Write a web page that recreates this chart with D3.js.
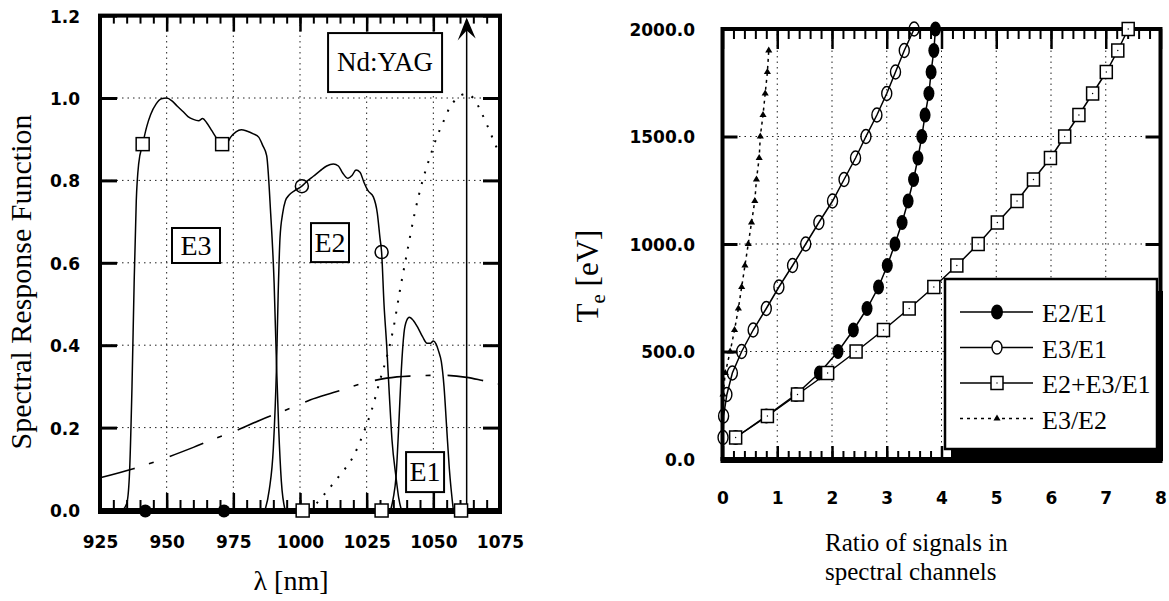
<!DOCTYPE html>
<html>
<head>
<meta charset="utf-8">
<script src="https://cdn.jsdelivr.net/npm/d3@7/dist/d3.min.js"></script>
<style>
body { margin: 0; background: #fff; }
svg { display: block; background: #fff; }
.tick text { font-family: "DejaVu Sans", sans-serif; font-weight: bold; font-size: 17px; fill: #000; }
.lbl { font-family: "Liberation Serif", "Times New Roman", serif; fill: #000; }
</style>
</head>
<body>
<div id="chart"></div>
<script>
// ---------- left panel data: spectral response vs wavelength [nm]
var e3Curve = [[933.5,0],[935,0.015],[936,0.08],[937,0.3],[937.8,0.55],[938.6,0.75],[939.5,0.84],[941,0.888],
  [942.5,0.93],[944,0.96],[946,0.985],[948,0.998],[950,1.0],[952,0.993],[954,0.98],[956,0.968],[958,0.955],
  [960,0.948],[962,0.945],[963.5,0.95],[965,0.94],[967,0.92],[969,0.9],[970.8,0.888],[972.5,0.89],[974,0.905],
  [976,0.918],[978,0.923],[980,0.92],[982.5,0.913],[984.5,0.905],[986,0.885],[987.5,0.86],[989,0.72],
  [990.3,0.55],[991.2,0.35],[992,0.2],[993,0.07],[994.4,0]];
var e2Curve = [[986.9,0],[988.5,0.05],[990,0.15],[991.2,0.35],[991.8,0.52],[992.5,0.66],[993.5,0.72],[994.5,0.75],
  [996,0.765],[998,0.775],[1000.7,0.786],[1003,0.8],[1005,0.81],[1007.5,0.823],[1010,0.835],[1012.5,0.84],
  [1014.4,0.835],[1016,0.818],[1018,0.805],[1019.5,0.812],[1021,0.825],[1022.5,0.82],[1024,0.795],[1025.5,0.775],
  [1027.5,0.76],[1029,0.72],[1030,0.66],[1030.6,0.626],[1031.5,0.5],[1032.5,0.4],[1033.5,0.28],[1034.5,0.17],
  [1036,0.08],[1037,0.03],[1038,0]];
var e1Curve = [[1034,0],[1035,0.03],[1036,0.08],[1037,0.2],[1038,0.34],[1039,0.43],[1040,0.46],[1041,0.468],
  [1042.5,0.46],[1044,0.445],[1046,0.42],[1047.6,0.405],[1049,0.405],[1050,0.41],[1051,0.403],[1052,0.385],
  [1053,0.36],[1054,0.3],[1055,0.2],[1056,0.1],[1057.5,0]];
var dottedCurve = [[1003,0],[1006,0.015],[1010,0.045],[1015,0.085],[1020,0.13],[1024,0.19],[1027,0.245],
  [1030,0.315],[1032.5,0.37],[1035,0.44],[1037.5,0.534],[1040,0.62],[1043,0.72],[1046,0.8],[1048.75,0.857],
  [1051,0.9],[1053.6,0.94],[1056,0.975],[1059,1.0],[1062,1.01],[1065,1.0],[1068,0.965],[1072.4,0.9],[1075,0.86]];
var dashDotCurve = [[925,0.078],[937.5,0.1],[948.6,0.124],[960,0.152],[968.8,0.175],[975,0.19],[985,0.218],
  [997.5,0.25],[1003.75,0.267],[1012.5,0.285],[1025,0.31],[1032.5,0.32],[1041,0.325],[1053.6,0.327],
  [1062.5,0.322],[1068,0.315],[1075,0.305]];
var e3Marks = [[941,0.888],[970.8,0.888]];
var e2Marks = [[1000.7,0.786],[1030.6,0.626]];
var baseDots = [942,971.5];
var baseSquares = [1001,1030.6,1060.4];
var laserLine = 1062.5;
var boxLabels = [
  {text:"Nd:YAG", x:1031.9, y:1.086, w:114, h:59, size:27},
  {text:"E3", x:961, y:0.642, w:48, h:35, size:28},
  {text:"E2", x:1011.25, y:0.649, w:38, h:39, size:28},
  {text:"E1", x:1046.9, y:0.092, w:38, h:40, size:28}
];
var lamTicks = [925,950,975,1000,1025,1050,1075];
var respTicks = [0,0.2,0.4,0.6,0.8,1.0,1.2];

// ---------- right panel data: Te [eV] vs ratio of signals
var teValues = [100,200,300,400,500,600,700,800,900,1000,1100,1200,1300,1400,1500,1600,1700,1800,1900,2000];
var ratioE2E1 = [0.24,0.80,1.34,1.77,2.11,2.39,2.64,2.85,3.01,3.15,3.28,3.39,3.49,3.57,3.64,3.70,3.77,3.81,3.86,3.89];
var ratioE3E1 = [0.01,0.02,0.08,0.18,0.35,0.56,0.80,1.03,1.28,1.52,1.76,2.01,2.22,2.43,2.62,2.82,3.00,3.16,3.32,3.50];
var ratioSum = [0.24,0.82,1.37,1.92,2.44,2.94,3.41,3.86,4.28,4.67,5.02,5.38,5.68,5.99,6.25,6.51,6.76,7.01,7.22,7.41];
var teE3E2 = [300,400,500,600,700,800,900,1000,1100,1200,1300,1400,1500,1600,1700,1800,1900];
var ratioE3E2 = [0.01,0.05,0.14,0.22,0.29,0.35,0.41,0.47,0.53,0.59,0.62,0.67,0.69,0.74,0.78,0.82,0.845];
var legendNames = ["E2/E1","E3/E1","E2+E3/E1","E3/E2"];
var ratioTicks = [0,1,2,3,4,5,6,7,8];
var teTicks = [0,500,1000,1500,2000];

var svg = d3.select("#chart").append("svg").attr("width", 1169).attr("height", 601);

function zip(xs, ys) { return xs.map(function(x, i) { return [x, ys[i]]; }); }
function range(a, b, s) { var r = []; for (var v = a; v <= b + 1e-9; v += s) r.push(+v.toFixed(4)); return r; }

// draws frame, grid, ticks and tick labels for one panel
function frame(g, x, y, xt, yt, xMinor, fmtX, fmtY, o) {
  var x0 = x.range()[0], x1 = x.range()[1], y0 = y.range()[0], y1 = y.range()[1];
  // dotted grid
  g.selectAll(".gx").data(xt.slice(1, -1)).enter().append("line")
    .attr("x1", d => x(d)).attr("x2", d => x(d)).attr("y1", y0).attr("y2", y1)
    .attr("stroke", "#222").attr("stroke-width", 1).attr("stroke-dasharray", "1.5,4");
  g.selectAll(".gy").data(yt.slice(1, -1)).enter().append("line")
    .attr("x1", x0).attr("x2", x1).attr("y1", d => y(d)).attr("y2", d => y(d))
    .attr("stroke", "#222").attr("stroke-width", 1).attr("stroke-dasharray", "1.5,4");
  var tickSets = [
    {ax: d3.axisTop(x).tickValues(xMinor).tickSize(o.botMinor), tr: [0, y0], w: 2},
    {ax: d3.axisTop(x).tickValues(xt).tickSize(o.botMajor), tr: [0, y0], w: 2.5},
    {ax: d3.axisBottom(x).tickValues(xMinor).tickSize(o.topMinor), tr: [0, y1], w: 2},
    {ax: d3.axisBottom(x).tickValues(xt).tickSize(o.topMajor), tr: [0, y1], w: 2.5},
    {ax: d3.axisRight(y).tickValues(yt).tickSize(o.yLen), tr: [x0, 0], w: 3},
    {ax: d3.axisLeft(y).tickValues(yt).tickSize(o.yLen), tr: [x1, 0], w: 3}
  ];
  tickSets.forEach(function(t) {
    var a = g.append("g").attr("transform", "translate(" + t.tr + ")").call(t.ax.tickFormat(""));
    a.select(".domain").remove();
    a.selectAll("line").attr("stroke", "#000").attr("stroke-width", t.w);
  });
  var bx = g.append("g").attr("transform", "translate(0," + y0 + ")")
    .call(d3.axisBottom(x).tickValues(xt).tickSize(0).tickPadding(o.xPad).tickFormat(fmtX));
  bx.select(".domain").remove();
  var by = g.append("g").attr("transform", "translate(" + x0 + ",0)")
    .call(d3.axisLeft(y).tickValues(yt).tickSize(0).tickPadding(o.yPad).tickFormat(fmtY));
  by.select(".domain").remove();
  by.selectAll("text").attr("dy", "0.38em");
  // thick frame
  g.append("rect").attr("x", x0).attr("y", y1).attr("width", x1 - x0).attr("height", y0 - y1)
    .attr("fill", "none").attr("stroke", "#000").attr("stroke-width", 4);
  g.append("line").attr("x1", x0 - 2).attr("x2", x1 + 2).attr("y1", y0 + 1).attr("y2", y0 + 1)
    .attr("stroke", "#000").attr("stroke-width", 6);
}

// ================= LEFT PANEL =================
var xL = d3.scaleLinear().domain([925, 1075]).range([100, 500]);
var yL = d3.scaleLinear().domain([0, 1.2]).range([510, 15.6]);
var gl = svg.append("g");

var lineL = d3.line().x(d => xL(d[0])).y(d => yL(d[1])).curve(d3.curveMonotoneX);

frame(gl, xL, yL, lamTicks, respTicks, range(925, 1075, 5), d3.format("d"), d3.format(".1f"),
  {botMinor: 10, botMajor: 17, topMinor: 8, topMajor: 16, yLen: 17, xPad: 26, yPad: 20});

gl.append("path").attr("d", lineL(dashDotCurve)).attr("fill", "none").attr("stroke", "#000")
  .attr("stroke-width", 1.6).attr("stroke-dasharray", "36,15,5,17");
gl.append("path").attr("d", lineL(dottedCurve)).attr("fill", "none").attr("stroke", "#000")
  .attr("stroke-width", 2).attr("stroke-dasharray", "2,9");
[e3Curve, e2Curve, e1Curve].forEach(function(c) {
  gl.append("path").attr("d", lineL(c)).attr("fill", "none").attr("stroke", "#000").attr("stroke-width", 1.5);
});

// laser wavelength arrow
var ax = xL(laserLine);
gl.append("line").attr("x1", ax).attr("x2", ax).attr("y1", yL(0)).attr("y2", yL(1.19))
  .attr("stroke", "#000").attr("stroke-width", 1.5);
gl.append("path").attr("d", "M" + ax + "," + (yL(1.2) + 2) + "L" + (ax + 9) + "," + (yL(1.2) + 23) +
    "L" + ax + "," + (yL(1.2) + 15) + "L" + (ax - 9) + "," + (yL(1.2) + 25) + "Z")
  .attr("fill", "#000");

// boxed labels
boxLabels.forEach(function(b) {
  var cx = xL(b.x), cy = yL(b.y);
  gl.append("rect").attr("x", cx - b.w / 2).attr("y", cy - b.h / 2).attr("width", b.w).attr("height", b.h)
    .attr("fill", "#fff").attr("stroke", "#000").attr("stroke-width", 2);
  gl.append("text").attr("class", "lbl").attr("x", cx).attr("y", cy + b.size * 0.33)
    .attr("text-anchor", "middle").style("font-size", b.size + "px").text(b.text);
});

// markers
gl.selectAll(".sqE3").data(e3Marks).enter().append("rect")
  .attr("x", d => xL(d[0]) - 6.5).attr("y", d => yL(d[1]) - 6.5).attr("width", 13).attr("height", 13)
  .attr("fill", "#fff").attr("stroke", "#000").attr("stroke-width", 1.5);
gl.selectAll(".ciE2").data(e2Marks).enter().append("circle")
  .attr("cx", d => xL(d[0])).attr("cy", d => yL(d[1])).attr("r", 6.5)
  .attr("fill", "none").attr("stroke", "#000").attr("stroke-width", 1.5);
gl.selectAll(".bDot").data(baseDots).enter().append("circle")
  .attr("cx", d => xL(d)).attr("cy", yL(0) + 1).attr("r", 6.5).attr("fill", "#000");
gl.selectAll(".bSq").data(baseSquares).enter().append("rect")
  .attr("x", d => xL(d) - 6.5).attr("y", yL(0) - 6).attr("width", 13).attr("height", 13)
  .attr("fill", "#fff").attr("stroke", "#000").attr("stroke-width", 1.5);

// axis titles
gl.append("text").attr("class", "lbl").attr("transform", "translate(31,282) rotate(-90)")
  .attr("text-anchor", "middle").style("font-size", "30px").text("Spectral Response Function");
gl.append("text").attr("class", "lbl").attr("x", 291).attr("y", 590)
  .attr("text-anchor", "middle").style("font-size", "28px").text("λ [nm]");

// ================= RIGHT PANEL =================
var xR = d3.scaleLinear().domain([0, 8]).range([722.5, 1160.5]);
var yR = d3.scaleLinear().domain([0, 2000]).range([459, 29]);
var gr = svg.append("g");

frame(gr, xR, yR, ratioTicks, teTicks, range(0, 8, 0.2), d3.format("d"), d3.format(".1f"),
  {botMinor: 8, botMajor: 13, topMinor: 10, topMajor: 20, yLen: 15, xPad: 33, yPad: 27.5});

var lineR = d3.line().x(d => xR(d[0])).y(d => yR(d[1]));
var sE2 = zip(ratioE2E1, teValues), sE3 = zip(ratioE3E1, teValues), sSum = zip(ratioSum, teValues);
var sE32 = zip(ratioE3E2, teE3E2);

function drawFilled(g, pts) {
  g.selectAll(null).data(pts).enter().append("ellipse")
    .attr("cx", d => xR(d[0])).attr("cy", d => yR(d[1])).attr("rx", 5.5).attr("ry", 7.5).attr("fill", "#000");
}
function drawOpen(g, pts) {
  g.selectAll(null).data(pts).enter().append("ellipse")
    .attr("cx", d => xR(d[0])).attr("cy", d => yR(d[1])).attr("rx", 5).attr("ry", 7)
    .attr("fill", "none").attr("stroke", "#000").attr("stroke-width", 1.4);
}
function drawSquares(g, pts) {
  var s = g.selectAll(null).data(pts).enter().append("g")
    .attr("transform", d => "translate(" + xR(d[0]) + "," + yR(d[1]) + ")");
  s.append("rect").attr("x", -6).attr("y", -6.5).attr("width", 12).attr("height", 13)
    .attr("fill", "#fff").attr("stroke", "#000").attr("stroke-width", 1.5);
  s.append("circle").attr("r", 0.7).attr("fill", "#000");
}
var tri = d3.symbol().type(d3.symbolTriangle).size(22);

gr.append("path").attr("d", lineR(sE32)).attr("fill", "none").attr("stroke", "#000")
  .attr("stroke-width", 1.5).attr("stroke-dasharray", "3,4");
gr.selectAll(".tri").data(sE32).enter().append("path").attr("d", tri)
  .attr("transform", d => "translate(" + xR(d[0]) + "," + yR(d[1]) + ")").attr("fill", "#000");

gr.append("path").attr("d", lineR(sSum)).attr("fill", "none").attr("stroke", "#000").attr("stroke-width", 1.5);
gr.append("path").attr("d", lineR(sE2)).attr("fill", "none").attr("stroke", "#000").attr("stroke-width", 1.5);
gr.append("path").attr("d", lineR(sE3)).attr("fill", "none").attr("stroke", "#000").attr("stroke-width", 1.5);
drawFilled(gr, sE2);
drawOpen(gr, sE3);
drawSquares(gr, sSum);

// legend with drop shadow
var lg = gr.append("g");
lg.append("rect").attr("x", 951).attr("y", 291).attr("width", 212).attr("height", 170).attr("fill", "#000");
lg.append("rect").attr("x", 945).attr("y", 279).attr("width", 212).attr("height", 170)
  .attr("fill", "#fff").attr("stroke", "#000").attr("stroke-width", 2.5);
legendNames.forEach(function(name, i) {
  var ly = 312 + i * 35.5;
  lg.append("line").attr("x1", 960).attr("x2", 1033).attr("y1", ly).attr("y2", ly)
    .attr("stroke", "#000").attr("stroke-width", 1.5).attr("stroke-dasharray", i === 3 ? "3,4" : null);
  if (i === 0) lg.append("ellipse").attr("cx", 997).attr("cy", ly).attr("rx", 6).attr("ry", 7.5).attr("fill", "#000");
  if (i === 1) lg.append("ellipse").attr("cx", 997).attr("cy", ly).attr("rx", 5).attr("ry", 6.5)
    .attr("fill", "#fff").attr("stroke", "#000").attr("stroke-width", 1.4);
  if (i === 2) {
    lg.append("rect").attr("x", 991).attr("y", ly - 6.5).attr("width", 12).attr("height", 13)
      .attr("fill", "#fff").attr("stroke", "#000").attr("stroke-width", 1.5);
    lg.append("circle").attr("cx", 997).attr("cy", ly).attr("r", 0.7).attr("fill", "#000");
  }
  if (i === 3) lg.append("path").attr("d", tri).attr("transform", "translate(997," + ly + ")").attr("fill", "#000");
  lg.append("text").attr("class", "lbl").attr("x", 1042).attr("y", ly + 10)
    .style("font-size", "26px").text(name);
});

// axis titles
var te = gr.append("text").attr("class", "lbl").attr("transform", "translate(598,276) rotate(-90)")
  .attr("text-anchor", "middle").style("font-size", "31px");
te.append("tspan").text("T");
te.append("tspan").attr("dy", 7).style("font-size", "21px").text("e");
te.append("tspan").attr("dy", -7).text(" [eV]");
gr.append("text").attr("class", "lbl").attr("x", 825).attr("y", 551).style("font-size", "25px").text("Ratio of signals in");
gr.append("text").attr("class", "lbl").attr("x", 825).attr("y", 580).style("font-size", "25px").text("spectral channels");
</script>
</body>
</html>
